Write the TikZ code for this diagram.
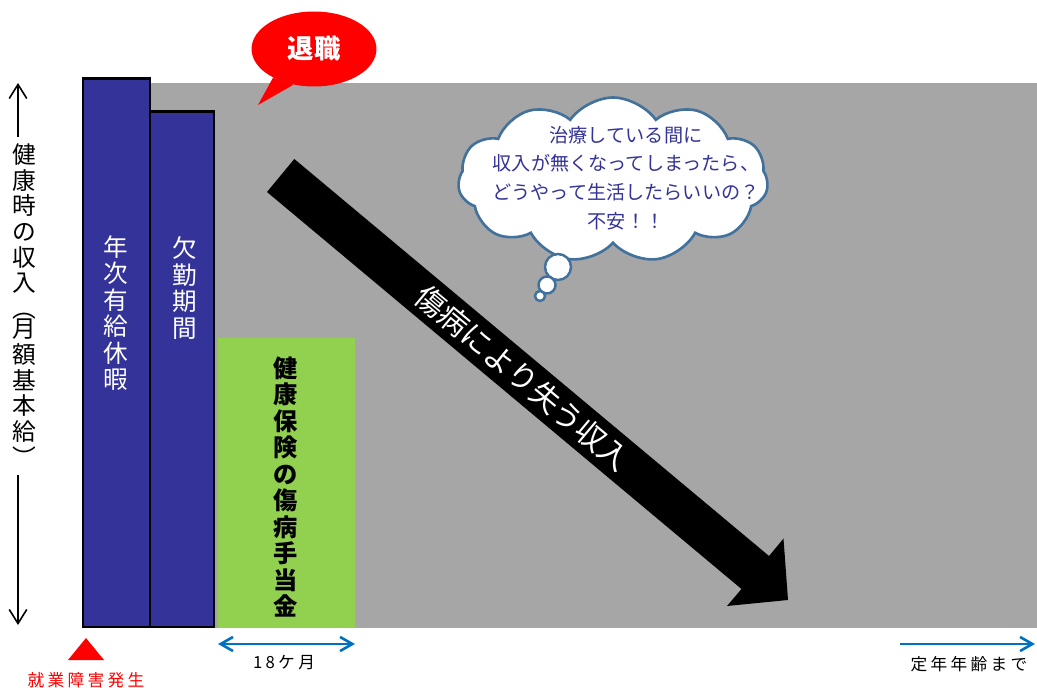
\documentclass[tikz,border=0pt]{standalone}
\usepackage{fontspec}
\setmainfont{Noto Sans CJK JP}
\newfontfamily\spaced{Noto Sans CJK JP}[LetterSpace=20]
\usetikzlibrary{arrows.meta,shapes.geometric,shapes.symbols}
\definecolor{bggray}{HTML}{A6A6A6}
\definecolor{barblue}{HTML}{333399}
\definecolor{kenpogreen}{HTML}{92D050}
\definecolor{spanblue}{HTML}{0070C0}
\definecolor{cloudline}{HTML}{41719C}
\begin{document}
\begin{tikzpicture}[x=0.02cm, y=-0.02cm,
  bar/.style={draw=black, line width=1.7pt, fill=barblue},
  vlabel/.style={align=center, inner sep=0pt},
  span/.style={draw=spanblue, line width=1.5pt},
  puff/.style={circle, draw=cloudline, line width=1.4pt, fill=white, inner sep=0pt}]
\useasboundingbox (0,0) rectangle (1037,688);
% background and bars
\fill[bggray] (83,83) rectangle (1037,628);
\draw[bar] (83,79) rectangle (150,627);
\draw[bar] (150,112) rectangle (214,627);
\fill[kenpogreen] (218,338) rectangle (355,628);
\node[vlabel, white, font=\fontsize{14}{15.1}\selectfont] (nenkyu) at (116,313) {年\\次\\有\\給\\休\\暇};
\node[vlabel, white, font=\fontsize{14}{15.1}\selectfont] (kekkin) at (185,288) {欠\\勤\\期\\間};
\node[vlabel, font=\bfseries\fontsize{13.8}{15.1}\selectfont] (kenpo) at (286,487) {健\\康\\保\\険\\の\\傷\\病\\手\\当\\金};
% left axis
\node[vlabel, font=\fontsize{13.5}{14.6}\selectfont] (axis) at (24,305)
  {健\\康\\時\\の\\収\\入\\︵\\[-3pt]月\\額\\基\\本\\給\\︶};
\coordinate (ax1) at (18,137);
\coordinate (ax0) at (18,83);
\coordinate (ax2) at (18,475);
\coordinate (ax3) at (18,625);
\draw[line width=0.9pt, -{Straight Barb[length=8pt,width=10pt]}] (ax1) -- (ax0);
\draw[line width=0.9pt, -{Straight Barb[length=8pt,width=10pt]}] (ax2) -- (ax3);
% retirement bubble
\node[ellipse, fill=red, inner sep=0pt, minimum width=2.5cm, minimum height=1.5cm,
  text=white, font=\bfseries\fontsize{15}{16}\selectfont] (quit) at (314,49) {退職};
\coordinate (tail) at (258,105);
\fill[red] (quit.215) -- (tail) -- (quit.240) -- cycle;
% lost income arrow
\fill[black] (294.3,159) -- (769,556) -- (783.5,538.6) -- (788,600) -- (727,606)
  -- (741.5,589) -- (267,192) -- cycle;
\node[white, rotate=-39.9, font=\fontsize{17}{18}\selectfont] (lost) at (523,378) {傷病により失う収入};
% thought cloud
\node[cloud, cloud puffs=11, cloud puff arc=110, draw=cloudline, line width=1.5pt, fill=white,
  minimum width=6.2cm, minimum height=3.3cm] (worry) at (613,180) {};
\node[puff, minimum size=0.52cm] (p1) at (558,267) {};
\node[puff, minimum size=0.34cm] (p2) at (547,285) {};
\node[puff, minimum size=0.2cm] (p3) at (540,296) {};
\node[align=center, text=barblue, font=\fontsize{10.9}{16.4}\selectfont] (worrytxt) at (626,178)
  {治療している間に\\収入が無くなってしまったら、\\どうやって生活したらいいの？\\不安！！};
% bottom marks
\fill[red] (68,660) -- (86,638) -- (104,660) -- cycle;
\node[text=red, font=\spaced\fontsize{9.5}{10}\selectfont] (onset) at (86,680) {就業障害発生};
\coordinate (s0) at (218,644);
\coordinate (s1) at (355,644);
\draw[span, {Straight Barb[length=7pt,width=8pt]}-{Straight Barb[length=7pt,width=8pt]}] (s0) -- (s1);
\node[font=\spaced\fontsize{9.5}{10}\selectfont] (months) at (284,663) {18ケ月};
\coordinate (r0) at (900,644);
\coordinate (r1) at (1035,644);
\draw[span, -{Straight Barb[length=7pt,width=8pt]}] (r0) -- (r1);
\node[font=\spaced\fontsize{9.5}{10}\selectfont] (retire) at (969,664) {定年年齢まで};
\end{tikzpicture}
\end{document}
